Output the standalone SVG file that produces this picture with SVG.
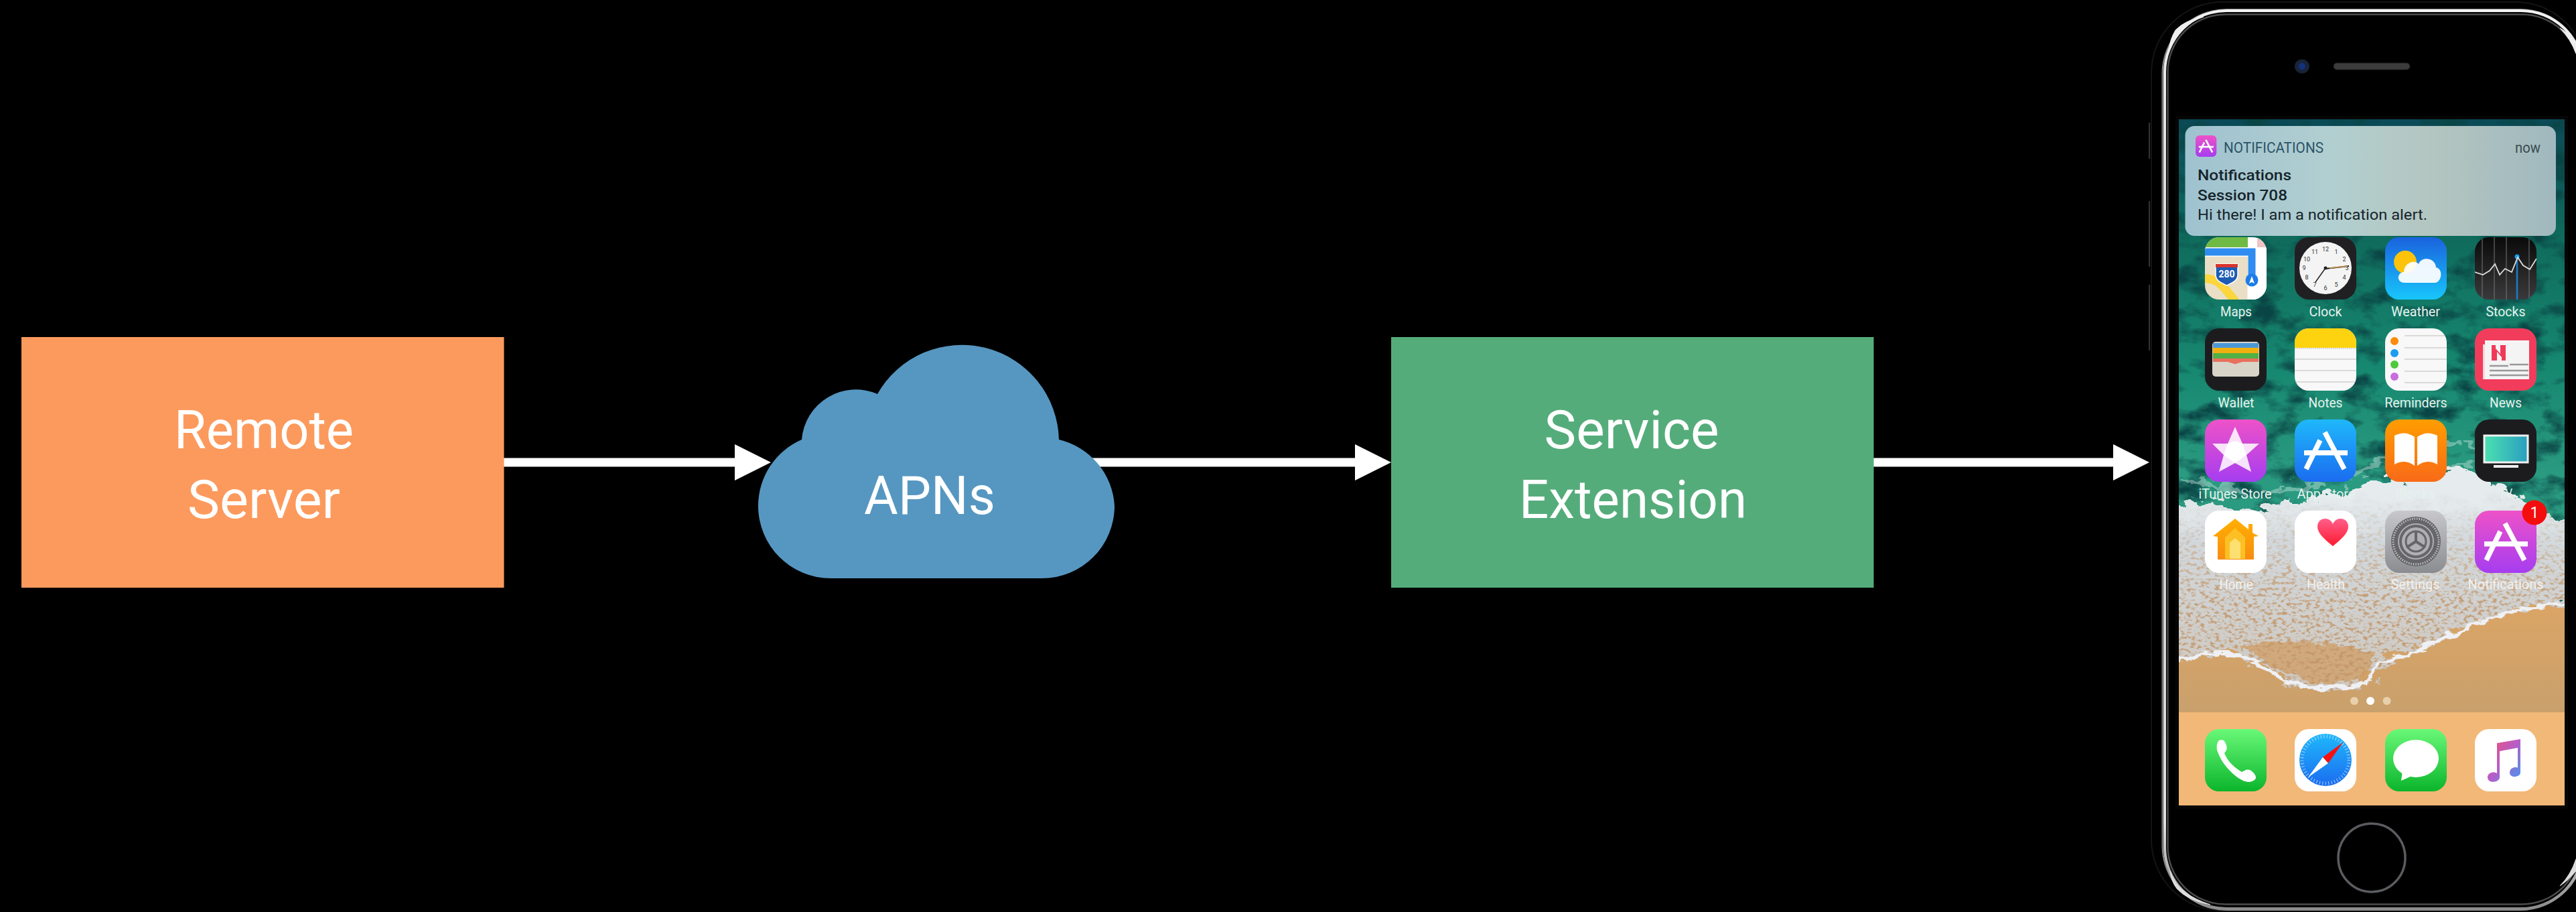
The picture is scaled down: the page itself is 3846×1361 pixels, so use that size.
<svg xmlns="http://www.w3.org/2000/svg" xmlns:xlink="http://www.w3.org/1999/xlink" width="3846" height="1361" viewBox="0 0 3846 1361">
<style>
.big{font-family:Roboto,"Liberation Sans",sans-serif;font-weight:400;font-size:80px;fill:#fff;text-anchor:middle}
.lab{font-family:Roboto,"Liberation Sans",sans-serif;font-size:20px;text-anchor:middle;fill:#e6f2ee}
.lab2{fill:#f4f0ea}
.nt{font-family:Roboto,"Liberation Sans",sans-serif;font-size:22px;fill:#16242a}
.nb{font-weight:500}
.num{font-family:Roboto,"Liberation Sans",sans-serif;font-size:9px;fill:#333;text-anchor:middle}
.ln{stroke:#cfcfcf;stroke-width:1.5;fill:none}
filter{color-interpolation-filters:sRGB}
</style>
<defs>
<marker id="head" markerUnits="userSpaceOnUse" markerWidth="54" markerHeight="54" refX="0" refY="27" orient="auto"><path d="M0 0L54 27L0 54Z" fill="#fff"/></marker>
<clipPath id="ic"><rect width="92" height="93" rx="21"/></clipPath>
<clipPath id="scr"><rect x="3253" y="178" width="576" height="885"/></clipPath>
<linearGradient id="wall" x1="0" y1="0" x2="0" y2="1"><stop offset="0" stop-color="#0b4a58"/><stop offset=".2" stop-color="#0f6b5c"/><stop offset=".42" stop-color="#178870"/><stop offset=".6" stop-color="#2a9a80"/><stop offset="1" stop-color="#2a9a80"/></linearGradient>
<linearGradient id="sand" x1="0" y1="0" x2="0" y2="1"><stop offset="0" stop-color="#dba566"/><stop offset="1" stop-color="#c9a06c"/></linearGradient>
<linearGradient id="foamFill" gradientUnits="userSpaceOnUse" x1="0" y1="740" x2="0" y2="1020"><stop offset="0" stop-color="#e6ecee"/><stop offset=".25" stop-color="#d2d8dc"/><stop offset="1" stop-color="#cec8c0"/></linearGradient>
<linearGradient id="foamMask" gradientUnits="userSpaceOnUse" x1="0" y1="745" x2="0" y2="900"><stop offset="0" stop-color="#fff" stop-opacity="0"/><stop offset="1" stop-color="#fff" stop-opacity=".85"/></linearGradient>
<linearGradient id="nbg" x1="0" y1="0" x2="1" y2="0"><stop offset="0" stop-color="#9fc2d0"/><stop offset=".4" stop-color="#b2cfd0"/><stop offset=".65" stop-color="#b4c6c0"/><stop offset="1" stop-color="#a0b8be"/></linearGradient>
<linearGradient id="gMag" x1="0" y1="0" x2="0" y2="1"><stop offset="0" stop-color="#ee52c8"/><stop offset="1" stop-color="#a63df0"/></linearGradient>
<linearGradient id="gBlue" x1="0" y1="0" x2="0" y2="1"><stop offset="0" stop-color="#1fb8fb"/><stop offset="1" stop-color="#1b6cf0"/></linearGradient>
<linearGradient id="gOr" x1="0" y1="0" x2="0" y2="1"><stop offset="0" stop-color="#ff9d00"/><stop offset="1" stop-color="#f96a18"/></linearGradient>
<linearGradient id="gGreen" x1="0" y1="0" x2="0" y2="1"><stop offset="0" stop-color="#69f877"/><stop offset="1" stop-color="#0bb52c"/></linearGradient>
<linearGradient id="gWeather" x1="0" y1="0" x2="0" y2="1"><stop offset="0" stop-color="#1a62de"/><stop offset="1" stop-color="#18c6fb"/></linearGradient>
<linearGradient id="gStock" x1="0" y1="0" x2="0" y2="1"><stop offset="0" stop-color="#0a0a0a"/><stop offset="1" stop-color="#3a3a3c"/></linearGradient>
<linearGradient id="gGrey" x1="0" y1="0" x2="0" y2="1"><stop offset="0" stop-color="#c8c8cc"/><stop offset="1" stop-color="#8a8c90"/></linearGradient>
<linearGradient id="gHeart" x1="0" y1="0" x2="0" y2="1"><stop offset="0" stop-color="#ff5f8a"/><stop offset="1" stop-color="#ff1a30"/></linearGradient>
<linearGradient id="gHouse" x1="0" y1="0" x2="0" y2="1"><stop offset="0" stop-color="#ffb000"/><stop offset="1" stop-color="#f88c10"/></linearGradient>
<linearGradient id="gNote" x1="0" y1="0" x2="1" y2="1"><stop offset="0" stop-color="#f5506a"/><stop offset=".5" stop-color="#b85cc8"/><stop offset="1" stop-color="#3c9cf0"/></linearGradient>
<linearGradient id="gTv" x1="0" y1="0" x2="1" y2="0"><stop offset="0" stop-color="#4ce0b0"/><stop offset="1" stop-color="#2a9ec0"/></linearGradient>
<linearGradient id="edgeV" gradientUnits="userSpaceOnUse" x1="0" y1="0" x2="0" y2="1361"><stop offset="0" stop-color="#f4f4f4"/><stop offset=".08" stop-color="#e8e8e8"/><stop offset=".5" stop-color="#c8c8c8"/><stop offset=".9" stop-color="#e0e0e0"/><stop offset="1" stop-color="#8a8a8a"/></linearGradient>
<filter id="water" x="0" y="0" width="1" height="1"><feTurbulence type="fractalNoise" baseFrequency="0.02 0.035" numOctaves="5" seed="3" result="n"/><feColorMatrix in="n" type="matrix" values="0 0 0 0 .04  0 0 0 0 .27  0 0 0 0 .27  3 0 0 0 -1.35" result="c"/><feComposite in="c" in2="SourceAlpha" operator="in" result="t"/><feMerge><feMergeNode in="SourceGraphic"/><feMergeNode in="t"/></feMerge></filter>
<filter id="rough" x="-6%" y="-6%" width="112%" height="112%"><feTurbulence type="fractalNoise" baseFrequency="0.035 0.06" numOctaves="4" seed="11" result="d"/><feDisplacementMap in="SourceGraphic" in2="d" scale="44" xChannelSelector="R" yChannelSelector="G"/></filter>
<filter id="rough2" x="-6%" y="-10%" width="112%" height="120%"><feTurbulence type="fractalNoise" baseFrequency="0.05 0.09" numOctaves="3" seed="5" result="d"/><feDisplacementMap in="SourceGraphic" in2="d" scale="16" xChannelSelector="R" yChannelSelector="G"/></filter>
<filter id="speck" x="-6%" y="-6%" width="112%" height="112%"><feTurbulence type="fractalNoise" baseFrequency="0.035 0.06" numOctaves="4" seed="11" result="d"/><feDisplacementMap in="SourceGraphic" in2="d" scale="44" xChannelSelector="R" yChannelSelector="G" result="shape"/><feTurbulence type="fractalNoise" baseFrequency="0.14 0.22" numOctaves="3" seed="7" result="n"/><feColorMatrix in="n" type="matrix" values="0 0 0 0 .76  0 0 0 0 .58  0 0 0 0 .4  5 0 0 0 -2.5" result="c"/><feComposite in="c" in2="shape" operator="in"/></filter>
<path id="foamP" d="M3235 990C3290 975 3320 972 3337 977C3370 985 3390 1005 3409 1013C3435 1025 3460 1028 3477 1025C3505 1024 3525 1024 3532 1020C3545 1005 3545 995 3554 990C3570 980 3590 978 3605 972C3640 958 3665 945 3690 933C3715 922 3735 918 3758 910C3785 905 3810 903 3850 900V785C3800 770 3770 750 3732 728C3705 712 3680 695 3647 698C3600 708 3530 722 3477 738C3450 750 3420 752 3392 756C3350 760 3290 748 3235 752Z"/>
<path id="shoreP" d="M3235 990C3290 975 3320 972 3337 977C3370 985 3390 1005 3409 1013C3435 1025 3460 1028 3477 1025C3505 1024 3525 1024 3532 1020C3545 1005 3545 995 3554 990C3570 980 3590 978 3605 972C3640 958 3665 945 3690 933C3715 922 3735 918 3758 910C3785 905 3810 903 3850 900"/>
<g id="aGlyph"><path d="M45 19L74 74" stroke="#fff" stroke-width="7.5" fill="none"/><path d="M38 31L17 74" stroke="#fff" stroke-width="7.5" fill="none"/><rect x="14" y="46" width="65" height="7.5" fill="#fff"/></g>
</defs>
<rect width="3846" height="1361" fill="#000"/>

<g id="connectors" stroke="#fff" stroke-width="13" fill="none">
<line x1="752" y1="690" x2="1097" y2="690" marker-end="url(#head)"/>
<line x1="1620" y1="690" x2="2023" y2="690" marker-end="url(#head)"/>
<line x1="2797" y1="690" x2="3155" y2="690" marker-end="url(#head)"/>
</g>

<g id="remote-server">
<rect x="32" y="503" width="720.5" height="374" fill="#FC9A5D"/>
<text class="big" x="394" y="669" textLength="268" lengthAdjust="spacingAndGlyphs">Remote</text>
<text class="big" x="394" y="773" textLength="228" lengthAdjust="spacingAndGlyphs">Server</text>
</g>
<g id="apns">
<path d="M1240 863A108 108 0 0 1 1132 755A108 108 0 0 1 1197 656A81 81 0 0 1 1310 588A145 145 0 0 1 1581 656A108 108 0 0 1 1664 755A108 108 0 0 1 1556 863Z" fill="#5697C1"/>
<text class="big" x="1388" y="767" textLength="196" lengthAdjust="spacingAndGlyphs">APNs</text>
</g>
<g id="service-extension">
<rect x="2077" y="503" width="720.5" height="374" fill="#55AC7B"/>
<text class="big" x="2436" y="669" textLength="261" lengthAdjust="spacingAndGlyphs">Service</text>
<text class="big" x="2438" y="773" textLength="340" lengthAdjust="spacingAndGlyphs">Extension</text>
</g>

<g id="iphone">
<g fill="none" stroke="#333" stroke-width="2"><path d="M3209 183V237"/><path d="M3209 300V398"/><path d="M3209 425V523"/></g>
<rect x="3212" y="3" width="650" height="1356" rx="106" fill="#000" stroke="#141414" stroke-width="2"/>
<rect x="3228.500" y="14" width="630" height="1344" rx="96" fill="none" stroke="#8a8a8a" stroke-width="2"/>
<rect x="3232" y="16" width="624" height="1340" rx="92" fill="none" stroke="url(#edgeV)" stroke-width="4"/>
<rect x="3236.500" y="21.500" width="615" height="1328" rx="86" fill="none" stroke="#4c4c4c" stroke-width="2.500"/>
<path d="M3238 75Q3246 50 3262 42Q3270 32 3290 25Q3262 30 3248 45Q3240 58 3238 75Z" fill="#eee" stroke="#eee"/>
<path d="M3846 80Q3838 58 3822 42Q3830 46 3846 62Z" fill="#eee" stroke="#eee"/>
<path d="M3240 1300Q3248 1322 3264 1332Q3276 1342 3300 1350Q3266 1344 3250 1326Q3242 1316 3240 1300Z" fill="#ddd" stroke="#ddd"/>
<path d="M3846 1282Q3838 1306 3822 1322Q3832 1316 3846 1300Z" fill="#ddd" stroke="#ddd"/>
<ellipse cx="3437" cy="99" rx="11" ry="10.500" fill="#1a2438"/><circle cx="3437" cy="99" r="5" fill="#13327c"/>
<rect x="3484" y="94" width="114" height="10" rx="5" fill="#3c3c3c" stroke="#1e1e1e"/>
<ellipse cx="3541" cy="1280" rx="50" ry="51" fill="none" stroke="#5a5c60" stroke-width="3.500"/>
<rect x="3248" y="173" width="586" height="1034" fill="#060606"/>

<g id="wallpaper" clip-path="url(#scr)">
<rect x="3253" y="178" width="576" height="885" fill="url(#wall)" filter="url(#water)"/>
<path d="M3500 715Q3560 680 3640 665T3770 710M3560 730Q3620 715 3690 690M3253 715Q3300 725 3350 735M3380 740Q3420 725 3470 725" fill="none" stroke="#d8ece6" stroke-opacity=".4" stroke-width="10" filter="url(#rough)"/>
<path d="M3235 900H3850V1063H3235Z" fill="url(#sand)"/>
<use href="#foamP" fill="url(#foamFill)" filter="url(#rough)"/>
<path d="M3345 965C3400 950 3500 960 3545 975C3540 1000 3530 1015 3480 1020C3440 1022 3400 1000 3345 965Z" fill="#d09a5c" fill-opacity=".7" filter="url(#rough2)"/>
<use href="#foamP" fill="url(#foamMask)" filter="url(#speck)"/>
<use href="#shoreP" fill="none" stroke="#eef0f4" stroke-width="6" filter="url(#rough2)"/>
</g>
<rect x="3253" y="1063" width="576" height="139" fill="#F2B877"/>
<circle cx="3515" cy="1046" r="6" fill="#e8d0ac"/><circle cx="3539" cy="1046" r="6" fill="#fff"/><circle cx="3563.600" cy="1046" r="6" fill="#e8d0ac"/>

<g id="notification">
<rect x="3262.500" y="188" width="553.500" height="164" rx="14" fill="url(#nbg)"/>
<g transform="translate(3278 202) scale(.34 .344)"><rect width="92" height="93" rx="18" fill="url(#gMag)"/><use href="#aGlyph"/></g>
<text class="nt" x="3320" y="228" textLength="149" lengthAdjust="spacingAndGlyphs" style="fill:#2b5468">NOTIFICATIONS</text>
<text class="nt" x="3755" y="228" textLength="38" lengthAdjust="spacingAndGlyphs" style="fill:#3a4c50">now</text>
<text class="nt nb" x="3281" y="269" textLength="140" lengthAdjust="spacingAndGlyphs">Notifications</text>
<text class="nt nb" x="3281" y="299" textLength="134" lengthAdjust="spacingAndGlyphs">Session 708</text>
<text class="nt" x="3281" y="328" textLength="343" lengthAdjust="spacingAndGlyphs">Hi there! I am a notification alert.</text>
</g>

<g id="app-maps" transform="translate(3292 354)"><g clip-path="url(#ic)"><rect width="92" height="93" fill="#e9dfc6"/><rect width="64" height="15" fill="#6fba44"/><rect x="64" width="28" height="93" fill="#fff"/><rect y="15" width="92" height="14" fill="#fff"/><rect x="78" width="14" height="15" fill="#eec4c4"/><path d="M0 22H70V62" stroke="#2f8cf0" stroke-width="11" fill="none"/><path d="M-4 62C25 60 30 80 46 96" stroke="#fbd63c" stroke-width="13" fill="none"/><path d="M70 60V96" stroke="#fff" stroke-width="13"/><path d="M16 40H49V56C49 66 38 69 32.500 72C27 69 16 66 16 56Z" fill="#1c5cb4" stroke="#fff" stroke-width="1.500"/><rect x="16" y="40" width="33" height="5" fill="#d8352c"/><text x="32.500" y="60" style="font:700 14px Roboto,sans-serif;fill:#fff;text-anchor:middle">280</text><circle cx="70" cy="64" r="9.500" fill="#1c7ce8"/><path d="M70 58L74 69L70 67L66 69Z" fill="#fff"/></g></g>
<g id="app-clock" transform="translate(3426 354)"><rect width="92" height="93" rx="21" fill="#202022"/><circle cx="46" cy="46" r="39" fill="#f4f4f4"/>
<text class="num" x="46" y="21">12</text><text class="num" x="62" y="25">1</text><text class="num" x="74" y="36">2</text><text class="num" x="78" y="49">3</text><text class="num" x="74" y="63">4</text><text class="num" x="62" y="74">5</text><text class="num" x="46" y="79">6</text><text class="num" x="30" y="74">7</text><text class="num" x="18" y="63">8</text><text class="num" x="14" y="49">9</text><text class="num" x="18" y="36">10</text><text class="num" x="30" y="25">11</text>
<path d="M46 46L31 67" stroke="#222" stroke-width="1.500"/><path d="M46 47L81 43" stroke="#222" stroke-width="2"/><path d="M52 46L79 43" stroke="#d09a50" stroke-width="1.500"/><circle cx="46" cy="46" r="2.500" fill="#222"/></g>
<g id="app-weather" transform="translate(3561 354)"><rect width="92" height="93" rx="21" fill="url(#gWeather)"/><circle cx="30" cy="37" r="17" fill="#fcc30a"/><path d="M29 68C17 68 17 53 28 52C28 40 42 32 50 40C54 28 75 30 76 45C88 48 84 68 74 68Z" fill="#fff" fill-opacity=".93"/></g>
<g id="app-stocks" transform="translate(3695 354)"><g clip-path="url(#ic)"><rect width="92" height="93" fill="url(#gStock)"/><path d="M11 0V93M29 0V93M47 0V93M81 0V93" stroke="#777" stroke-width="1" fill="none"/><path d="M63 29V93" stroke="#1c7cc8" stroke-width="2.500"/><circle cx="63" cy="29" r="3.500" fill="#1c9cf0"/><path d="M0 52L12 56L22 50L30 40L37 56L45 47L55 52L64 30L72 42L82 48L92 32" stroke="#ddd" stroke-width="1.800" fill="none"/></g></g>

<g id="app-wallet" transform="translate(3292 490)"><rect width="92" height="93" rx="21" fill="#1c1c1e"/><rect x="11" y="20" width="70" height="52" rx="5" fill="#d8d4c8"/><rect x="12" y="22" width="68" height="9" fill="#4a98d8"/><rect x="12" y="29" width="68" height="9" fill="#f0b010"/><rect x="12" y="37" width="68" height="8" fill="#52b044"/><path d="M12 45H80V50H56L46 53Q45 54 44 53L34 50H12Z" fill="#e8705c"/></g>
<g id="app-notes" transform="translate(3426 490)"><g clip-path="url(#ic)"><rect width="92" height="93" fill="#f8f8f8"/><rect width="92" height="29" fill="#fdd30f"/><path d="M0 30H92" stroke="#aaa" stroke-dasharray="1.500 1.500"/><path class="ln" d="M0 46H92M0 63H92M0 80H92"/></g></g>
<g id="app-reminders" transform="translate(3561 490)"><g clip-path="url(#ic)"><rect width="92" height="93" fill="#f8f8f8"/><circle cx="14" cy="19" r="6" fill="#fc8c0c"/><circle cx="14" cy="37" r="6" fill="#1c9cf0"/><circle cx="14" cy="54" r="6" fill="#50c83c"/><circle cx="14" cy="72" r="6" fill="#c86ce0"/><path class="ln" d="M29 11H92M29 29H92M29 46H92M29 64H92M29 81H92"/></g></g>
<g id="app-news" transform="translate(3695 490)"><rect width="92" height="93" rx="21" fill="#f23c5c"/><rect x="12" y="24" width="8" height="52" fill="#f6d8dc"/><rect x="15" y="18" width="66" height="58" fill="#f4f4f4"/><path d="M25 25H31V30L38 38V25H46V48H40V43L33 35V48H25Z" fill="#f03a5a"/><path d="M52 54H80M22 56H50M22 63H80M22 70H80" stroke="#999" stroke-width="2.500"/></g>

<g id="app-itunes" transform="translate(3292 626)"><rect width="92" height="93" rx="21" fill="url(#gMag)"/><path d="M45 11L56 36H81L62 53L69 78L45 65L21 78L28 53L11 36H34Z" fill="#fff" fill-opacity=".85"/><path d="M45 32L56 36L62 53L45 65L28 53L34 36Z" fill="#fff"/></g>
<g id="app-appstore" transform="translate(3426 626)"><rect width="92" height="93" rx="21" fill="url(#gBlue)"/><use href="#aGlyph"/></g>
<g id="app-ibooks" transform="translate(3561 626)"><rect width="92" height="93" rx="21" fill="url(#gOr)"/><path d="M14 24Q30 16 44 26V69Q30 58 14 67Z" fill="#fff"/><path d="M78 24Q62 16 48 26V69Q62 58 78 67Z" fill="#fff"/></g>
<g id="app-tv" transform="translate(3695 626)"><rect width="92" height="93" rx="21" fill="#1c1c1e"/><rect x="14" y="24" width="65" height="40" fill="url(#gTv)" stroke="#f0f0f0" stroke-width="3"/><rect x="28" y="68" width="37" height="4" fill="#eee"/></g>

<g id="app-home" transform="translate(3292 762)"><rect width="92" height="93" rx="21" fill="#fff"/><path d="M12 38L45 12L65 28V20H71V33L80 38L73 39V73H19V39Z" fill="url(#gHouse)"/><path d="M30 72V40L45 26L60 40V72Z" fill="#fcc024"/><path d="M37 72V48L45 41L53 48V72Z" fill="#fde070"/></g>
<g id="app-health" transform="translate(3426 762)"><rect width="92" height="93" rx="21" fill="#fff"/><path d="M57 53C45 43 34 34 34 24C34 10 52 8 57 20C62 8 80 10 80 24C80 34 69 43 57 53Z" fill="url(#gHeart)"/></g>
<g id="app-settings" transform="translate(3561 762)"><rect width="92" height="93" rx="21" fill="url(#gGrey)"/><circle cx="46" cy="46" r="37" fill="#66666a"/><circle cx="46" cy="46" r="34" fill="none" stroke="#c4c4c4" stroke-width="3" stroke-dasharray="1.500 2"/><circle cx="46" cy="46" r="27" fill="#b0b0b4"/><circle cx="46" cy="46" r="23" fill="none" stroke="#66666a" stroke-width="4"/><circle cx="46" cy="46" r="15" fill="#b0b0b4" stroke="#66666a" stroke-width="3"/><path d="M46 46V30M46 46L60 55M46 46L32 55" stroke="#66666a" stroke-width="4"/></g>
<g id="app-notifications" transform="translate(3695 762)"><rect width="92" height="93" rx="21" fill="url(#gMag)"/><use href="#aGlyph"/></g>
<circle cx="3784" cy="765" r="18.500" fill="#f40d0d"/><text x="3784" y="773" style="font:400 23px Roboto,sans-serif;fill:#fff;text-anchor:middle">1</text>

<g id="app-phone" transform="translate(3292 1088)"><rect width="92" height="93" rx="21" fill="url(#gGreen)"/><path d="M21 17C27 14 30 18 32 24C34 31 31 33 29 36C34 48 42 56 55 64C60 62 64 58 70 63C76 68 78 73 74 76C66 82 57 78 47 71C33 60 22 45 18 31C17 25 18 20 21 17Z" fill="#fff"/></g>
<g id="app-safari" transform="translate(3426 1088)"><rect width="92" height="93" rx="21" fill="#fff"/><circle cx="46" cy="46" r="39" fill="url(#gBlue)"/><circle cx="46" cy="46" r="35" fill="none" stroke="#cfe6ff" stroke-width="5" stroke-dasharray="1 3.500" opacity=".8"/><path d="M72 20L50 51L42 42Z" fill="#f81010"/><path d="M20 72L42 42L50 51Z" fill="#fff"/></g>
<g id="app-messages" transform="translate(3561 1088)"><rect width="92" height="93" rx="21" fill="url(#gGreen)"/><ellipse cx="46" cy="44" rx="34" ry="28" fill="#fff"/><path d="M26 62L24 77L40 70Z" fill="#fff"/></g>
<g id="app-music" transform="translate(3695 1088)"><rect width="92" height="93" rx="21" fill="#fff"/><path d="M33 21L68 15V65C68 72 52 74 52 65C52 57 62 56 64 58V28L37 33V72C37 80 19 82 19 72C19 64 30 63 33 66Z" fill="url(#gNote)"/></g>

<g id="app-labels">
<text class="lab" x="3338.500" y="472" textLength="47" lengthAdjust="spacingAndGlyphs">Maps</text>
<text class="lab" x="3472" y="472" textLength="49" lengthAdjust="spacingAndGlyphs">Clock</text>
<text class="lab" x="3606.500" y="472" textLength="73" lengthAdjust="spacingAndGlyphs">Weather</text>
<text class="lab" x="3741" y="472" textLength="59" lengthAdjust="spacingAndGlyphs">Stocks</text>
<text class="lab" x="3338.500" y="608" textLength="54" lengthAdjust="spacingAndGlyphs">Wallet</text>
<text class="lab" x="3472" y="608" textLength="51" lengthAdjust="spacingAndGlyphs">Notes</text>
<text class="lab" x="3607" y="608" textLength="93.500" lengthAdjust="spacingAndGlyphs">Reminders</text>
<text class="lab" x="3741" y="608" textLength="48" lengthAdjust="spacingAndGlyphs">News</text>
<text class="lab" x="3337" y="744" textLength="109" lengthAdjust="spacingAndGlyphs">iTunes Store</text>
<text class="lab" x="3473" y="744" textLength="87" lengthAdjust="spacingAndGlyphs">App Store</text>
<text class="lab" x="3606" y="744" textLength="58" lengthAdjust="spacingAndGlyphs">iBooks</text>
<text class="lab" x="3741" y="744" textLength="20" lengthAdjust="spacingAndGlyphs">TV</text>
<text class="lab lab2" x="3338.500" y="879" textLength="50" lengthAdjust="spacingAndGlyphs">Home</text>
<text class="lab lab2" x="3472.500" y="879" textLength="57" lengthAdjust="spacingAndGlyphs">Health</text>
<text class="lab lab2" x="3606" y="879" textLength="73" lengthAdjust="spacingAndGlyphs">Settings</text>
<text class="lab lab2" x="3741" y="879" textLength="113" lengthAdjust="spacingAndGlyphs">Notifications</text>
</g>
</g>
</svg>
